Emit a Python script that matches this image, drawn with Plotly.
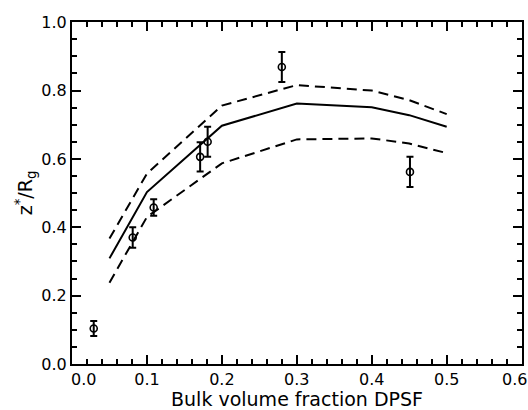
import plotly.graph_objects as go

# Experimental points
x_exp = [0.029, 0.081, 0.109, 0.171, 0.181, 0.280, 0.451]
y_exp = [0.104, 0.370, 0.458, 0.606, 0.650, 0.869, 0.562]
err_exp = [0.022, 0.030, 0.024, 0.043, 0.044, 0.044, 0.044]

# Theory curves
x_th = [0.05, 0.10, 0.20, 0.30, 0.40, 0.45, 0.50]
y_mid = [0.309, 0.503, 0.697, 0.762, 0.751, 0.728, 0.694]
y_up = [0.367, 0.557, 0.756, 0.816, 0.800, 0.772, 0.731]
y_lo = [0.238, 0.430, 0.587, 0.657, 0.660, 0.645, 0.617]

x_ticks = [0.0, 0.1, 0.2, 0.3, 0.4, 0.5, 0.6]
x_labels = ["0.0", "0.1", "0.2", "0.3", "0.4", "0.5", "0.6"]
y_ticks = [0.0, 0.2, 0.4, 0.6, 0.8, 1.0]
y_labels = ["0.0", "0.2", "0.4", "0.6", "0.8", "1.0"]

# end labels are drawn as annotations (nudged inward like the original)
x_text = [""] + x_labels[1:-1] + [""]

fig = go.Figure()
fig.add_trace(go.Scatter(x=x_th, y=y_up, mode="lines",
                         line=dict(color="black", width=2, dash="10px,6px")))
fig.add_trace(go.Scatter(x=x_th, y=y_mid, mode="lines",
                         line=dict(color="black", width=2)))
fig.add_trace(go.Scatter(x=x_th, y=y_lo, mode="lines",
                         line=dict(color="black", width=2, dash="10px,6px")))
fig.add_trace(go.Scatter(x=x_exp, y=y_exp, mode="markers",
                         marker=dict(symbol="circle-open", size=7, color="black",
                                     line=dict(width=1.6, color="black")),
                         error_y=dict(type="data", array=err_exp, visible=True,
                                      color="black", thickness=2, width=3.5)))
# invisible trace so the mirrored (top/right) axes get drawn
fig.add_trace(go.Scatter(x=[None], y=[None], xaxis="x2", yaxis="y2",
                         mode="markers", hoverinfo="skip"))

font = "DejaVu Sans, Liberation Sans, Arial, sans-serif"
xr = [0, 0.6005]
yr = [0, 1.0005]
fig.update_layout(
    width=528, height=410,
    margin=dict(l=72, r=6, t=22, b=46),
    paper_bgcolor="white", plot_bgcolor="white",
    showlegend=False,
    font=dict(family=font, color="black", size=16),
)
for xv, lab, shift in [(x_ticks[0], x_labels[0], 11), (x_ticks[-1], x_labels[-1], -7)]:
    fig.add_annotation(x=xv, xref="x", y=0, yref="paper", text=lab,
                       showarrow=False, xanchor="center", yanchor="top",
                       xshift=shift, yshift=-4, font=dict(size=16))

tick_common = dict(ticks="inside", ticklen=9, tickwidth=1.6, tickcolor="black",
                   showgrid=False, zeroline=False)
fig.update_layout(
    xaxis=dict(
        range=xr, tickvals=x_ticks, ticktext=x_text,
        minor=dict(dtick=0.02, ticks="inside", ticklen=5, tickwidth=1.6, tickcolor="black"),
        showline=True, linewidth=2, linecolor="black", mirror=True,
        title=dict(text="Bulk volume fraction DPSF", font=dict(size=19), standoff=2),
        tickfont=dict(size=16), automargin=False,
        **tick_common,
    ),
    xaxis2=dict(
        range=xr, tickvals=x_ticks, showticklabels=False, overlaying="x",
        side="top", anchor="y2",
        minor=dict(dtick=0.02, ticks="inside", ticklen=5, tickwidth=1.6, tickcolor="black"),
        showline=False, **tick_common,
    ),
    yaxis=dict(
        range=yr, tickvals=y_ticks, ticktext=y_labels,
        minor=dict(dtick=0.05, ticks="inside", ticklen=5, tickwidth=1.6, tickcolor="black"),
        showline=True, linewidth=2, linecolor="black", mirror=True,
        title=dict(text="z<sup>*</sup>/R<sub>g</sub>", font=dict(size=19), standoff=4),
        tickfont=dict(size=16), automargin=False, ticklabeloverflow="allow",
        **tick_common,
    ),
    yaxis2=dict(
        range=yr, tickvals=y_ticks, showticklabels=False, overlaying="y",
        side="right", anchor="x2",
        minor=dict(dtick=0.05, ticks="inside", ticklen=5, tickwidth=1.6, tickcolor="black"),
        showline=False, **tick_common,
    ),
)
fig.write_html("out.html")
